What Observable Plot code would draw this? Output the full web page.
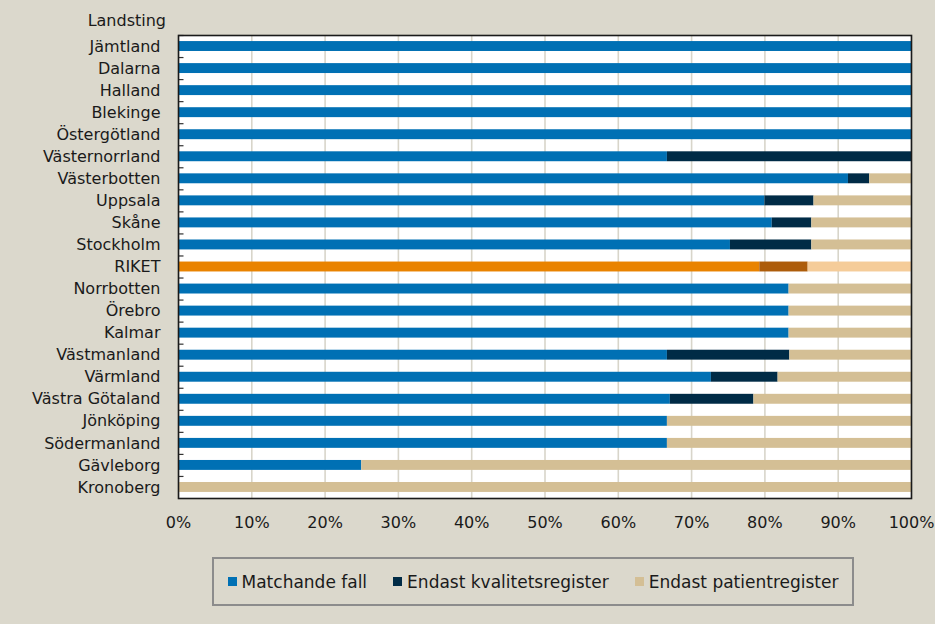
<!DOCTYPE html>
<html><head><meta charset="utf-8">
<script src="https://cdn.jsdelivr.net/npm/d3@7"></script>
<script src="https://cdn.jsdelivr.net/npm/@observablehq/plot@0.6"></script>
<style>
html,body{margin:0;padding:0}
body{background:#dbd8cc;font-family:"DejaVu Sans",sans-serif;width:935px;height:624px;overflow:hidden;position:relative;color:#1a1a1a}
#sub{position:absolute;left:23px;top:-17px;font-size:19px;line-height:19px;white-space:nowrap}
#ylab{position:absolute;right:769px;top:11px;font-size:16px;line-height:20px;white-space:nowrap}
#chart{position:absolute;left:0;top:0}
#legend{position:absolute;left:212px;top:557px;width:638px;height:45px;border:2px solid #8c8c8c;display:flex;align-items:center;justify-content:center;font-size:17px}
.item{display:flex;align-items:center;margin:0 13px}
.sw{width:9px;height:9px;margin-right:5px}
</style></head>
<body>
<div id="sub">under 2016.</div>
<div id="chart"></div>
<div id="ylab">Landsting</div>
<div id="legend"></div>
<script>
const regions = ["Jämtland","Dalarna","Halland","Blekinge","Östergötland","Västernorrland","Västerbotten","Uppsala","Skåne","Stockholm","RIKET","Norrbotten","Örebro","Kalmar","Västmanland","Värmland","Västra Götaland","Jönköping","Södermanland","Gävleborg","Kronoberg"];
const matchande  = [100,100,100,100,100,66.7,91.4,80.0,81.0,75.3,79.3,83.3,83.3,83.3,66.7,72.7,67.1,66.7,66.7,25.0,0];
const endastKval = [0,0,0,0,0,33.3,2.9,6.7,5.4,11.1,6.6,0,0,0,16.7,9.1,11.4,0,0,0,0];
const endastPat  = [0,0,0,0,0,0,5.7,13.3,13.6,13.6,14.1,16.7,16.7,16.7,16.6,18.2,21.5,33.3,33.3,75.0,100];
const series = ["Matchande fall","Endast kvalitetsregister","Endast patientregister"];
const colors = ["#0070b4","#002b46","#d4bf95"];
const riketColors = ["#e98300","#ad5c0a","#f5cc99"];
const xTicks = [0,10,20,30,40,50,60,70,80,90,100];

const valuesBySeries = [matchande, endastKval, endastPat];
const data = [];
series.forEach((s, si) => {
  regions.forEach((r, ri) => {
    data.push({region: r, series: s, value: valuesBySeries[si][ri],
      color: r === "RIKET" ? riketColors[si] : colors[si]});
  });
});

const W = 935, H = 540, mt = 35, mb = 42, ml = 178, mr = 24;
const step = (H - mt - mb) / regions.length;

const chart = Plot.plot({
  width: W, height: H,
  marginTop: mt, marginBottom: mb, marginLeft: ml, marginRight: mr,
  style: {background: "transparent", fontFamily: "DejaVu Sans, sans-serif", fontSize: "16px", color: "#1a1a1a", overflow: "visible"},
  x: {domain: [0, 100], ticks: xTicks, tickFormat: d => d + "%", tickSize: 0, tickPadding: 18, label: null},
  y: {domain: regions, paddingInner: 0.55, paddingOuter: 0.275, round: false, tickSize: 0, tickPadding: 18, label: null},
  color: {type: "identity"},
  marks: [
    Plot.frame({fill: "white", stroke: null}),
    Plot.gridX(xTicks, {stroke: "#d8d5ca", strokeOpacity: 1, strokeWidth: 1.6}),
    Plot.barX(data, Plot.stackX({y: "region", x: "value", z: "series", fill: "color", order: null})),
    Plot.ruleY(regions, {y: d => d, x1: 0, x2: 0.75, dy: -step / 2, stroke: "#333", strokeWidth: 1.2}),
    Plot.frame({stroke: "#1a1a1a", strokeWidth: 1.6})
  ]
});
document.getElementById("chart").appendChild(chart);

const legend = document.getElementById("legend");
series.forEach((s, i) => {
  const it = document.createElement("div");
  it.className = "item";
  const sw = document.createElement("div");
  sw.className = "sw";
  sw.style.background = colors[i];
  it.appendChild(sw);
  const t = document.createElement("span");
  t.textContent = s;
  it.appendChild(t);
  legend.appendChild(it);
});
</script>
</body></html>
